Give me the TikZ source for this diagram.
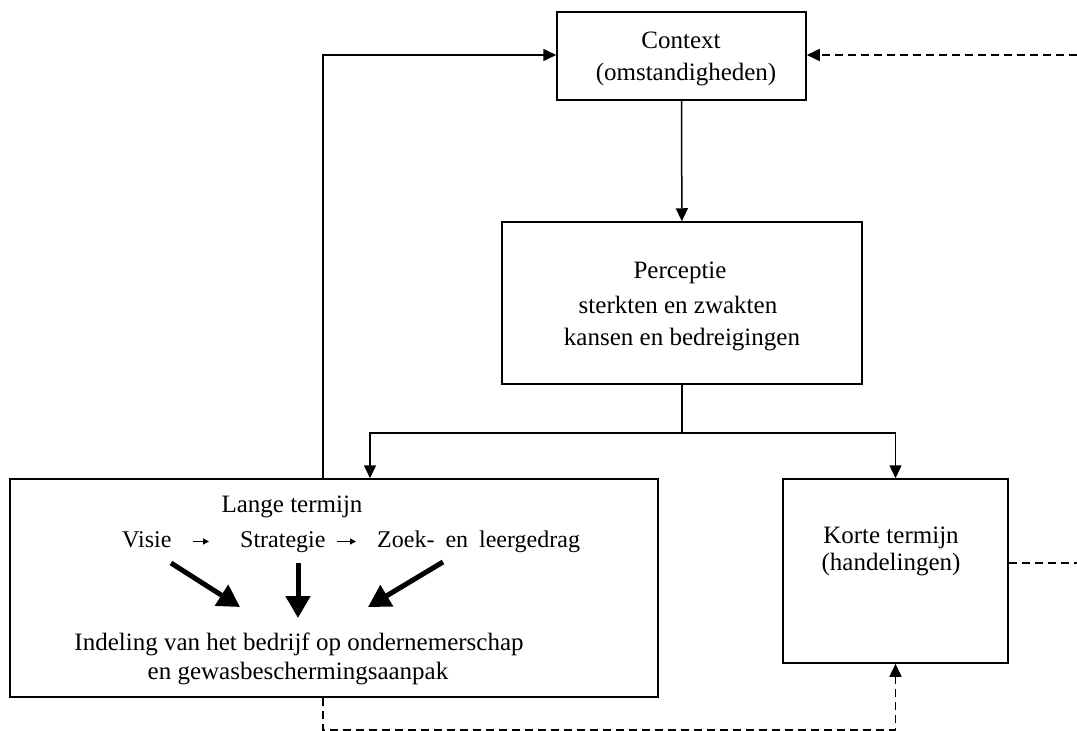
\documentclass[tikz,border=0pt]{standalone}
\usepackage{fontspec}
\setmainfont{Liberation Serif}
\usetikzlibrary{arrows.meta,calc}
\begin{document}
\begin{tikzpicture}[x=1pt,y=-1pt,
  box/.style={draw,line width=1.5pt,inner sep=0pt},
  txt/.style={inner sep=0pt,anchor=base,font=\fontsize{25}{33}\selectfont},
  rowtxt/.style={inner sep=0pt,anchor=west,text height=16pt,text depth=5pt,font=\fontsize{24}{33}\selectfont},
  conn/.style={line width=1.5pt},
  tip/.style={-{Triangle[length=13pt,width=12pt]}},
  arr/.style={conn,tip},
  dsh/.style={conn,dash pattern=on 8pt off 5pt},
  small/.style={line width=1.3pt,-{Triangle[length=6pt,width=6pt]}},
  thick/.style={line width=5pt,-{Triangle[length=22pt,width=24pt]}}]
\useasboundingbox (0,0) rectangle (1077,731);

% boxes
\node[box,minimum width=249pt,minimum height=88pt] (context) at (681.5,56) {};
\node[box,minimum width=360pt,minimum height=162pt] (perc) at (682,303) {};
\node[box,minimum width=648pt,minimum height=218pt] (lange) at (334,588) {};
\node[box,minimum width=225pt,minimum height=184pt] (korte) at (895.5,571) {};

% box texts
\node[txt] (t1) at (681,48) {Context};
\node[txt] (t2) at (686,80) {(omstandigheden)};
\node[txt] (t3) at (680,278) {Perceptie};
\node[txt] (t4) at (678,313) {sterkten en zwakten};
\node[txt] (t5) at (682,345) {kansen en bedreigingen};
\node[txt] (t6) at (891,543) {Korte termijn};
\node[txt] (t7) at (891,570) {(handelingen)};
\node[txt] (t8) at (292,512) {Lange termijn};
\node[txt] (t9) at (299,650) {Indeling van het bedrijf op ondernemerschap};
\node[txt] (t10) at (298,679) {en gewasbeschermingsaanpak};

% row inside the long-term box
\node[rowtxt] (visie) at (122,541.5) {Visie};
\node[rowtxt] (strat) at (240,541.5) {Strategie};
\node[rowtxt] (zoek) at (377,541.5) {Zoek-\hspace{11pt}en\hspace{11pt}leergedrag};
\coordinate (s1a) at (193,541.5); \coordinate (s1b) at (209,541.5);
\coordinate (s2a) at (337,541.5); \coordinate (s2b) at (356,541.5);
\draw[small] (s1a) -- (s1b);
\draw[small] (s2a) -- (s2b);

% thick arrows towards the classification
\coordinate (a1s) at (171,563); \coordinate (a1e) at (240,607);
\coordinate (a2s) at (298,563); \coordinate (a2e) at (298,618);
\coordinate (a3s) at (443,562); \coordinate (a3e) at (368,607);
\draw[thick] (a1s) -- (a1e);
\draw[thick] (a2s) -- (a2e);
\draw[thick] (a3s) -- (a3e);

% connectors
\draw[arr] (context) -- (perc);
\draw[conn] (perc.south) -- ++(0,48) coordinate (split);
\draw[arr] (split) -| ([xshift=36pt]lange.north);
\draw[arr] (split) -| (korte.north);
\draw[arr] ([xshift=-11pt]lange.north) |- ([yshift=1pt]context.west);

% dashed feedback lines
\coordinate (ctxin) at (1077,55);
\coordinate (korteout) at (1077,563);
\draw[dsh,tip] (ctxin) -- ([yshift=1pt]context.east);
\draw[dsh] ([yshift=8pt]korte.east) -- (korteout);
\draw[dsh,tip] ([xshift=-11pt]lange.south) -- ++(0,32) -| (korte.south);
\end{tikzpicture}
\end{document}
